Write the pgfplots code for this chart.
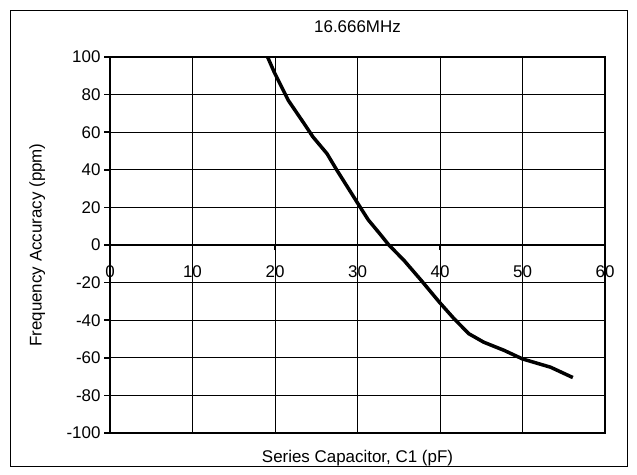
\documentclass[border=0pt]{standalone}
\usepackage{fontspec}
\setmainfont{Liberation Sans}
\usepackage{pgfplots}
\pgfplotsset{compat=1.18}

\begin{document}
\begin{tikzpicture}
\pgfplotsset{
  every axis/.append style={
    width=495bp, height=376bp, scale only axis,
    xmin=0, xmax=60, ymin=-100, ymax=100,
    font=\fontsize{17}{19}\selectfont,
    /pgf/number format/assume math mode=true,
  }
}
\begin{axis}[
    name=ax,
    axis line style={line width=1.5bp},
    grid=major,
    grid style={line width=0.8bp, black},
    xtick={0,10,...,60}, xticklabels={},
    major x tick style={draw=none},
    ytick={-100,-80,...,100},
    ytick pos=left, tick align=outside,
    major tick length=6bp,
    major y tick style={line width=1.5bp, black},
    title={16.666MHz},
    title style={at={(axis description cs:0.5,1.064)}, anchor=center},
    xlabel={Series Capacitor, C1 (pF)},
    xlabel style={at={(axis description cs:0.5,-0.067)}, anchor=center},
    ylabel={Frequency Accuracy (ppm)},
    ylabel style={at={(axis description cs:-0.147,0.5)}, anchor=center},
  ]
  \addplot[black, line width=1.6bp] coordinates {(0,0) (60,0)};
  \addplot[black, line width=3.5bp, line join=round] coordinates {
    (19.1,100) (19.9,92) (21.6,77) (23.4,65.4) (24.6,57.5) (26.3,48.6)
    (27.5,39.8) (30.3,20.3) (31.3,13.4) (32.7,6) (33.8,0) (35.6,-8)
    (37.7,-18.7) (39.9,-30.3) (41.7,-39.2) (43.5,-47.2) (45.3,-51.7)
    (47.8,-56.1) (50,-60.6) (53.4,-65) (56.1,-70.5)
  };
\end{axis}
\begin{axis}[
    axis x line=middle, axis y line=none,
    x axis line style={line width=1.6bp, -},
    xtick={0,10,...,60}, ytick=\empty,
    tick align=outside, major tick length=5bp,
    major x tick style={line width=1.5bp, black},
    xticklabel style={yshift=-12bp},
  ]
\end{axis}
\draw[line width=0.8bp] ([shift={(-100bp,-33bp)}]ax.south west) rectangle ([shift={(22bp,47bp)}]ax.north east);
\path ([shift={(-110bp,-41bp)}]ax.south west) rectangle ([shift={(32bp,57bp)}]ax.north east);
\end{tikzpicture}
\end{document}
